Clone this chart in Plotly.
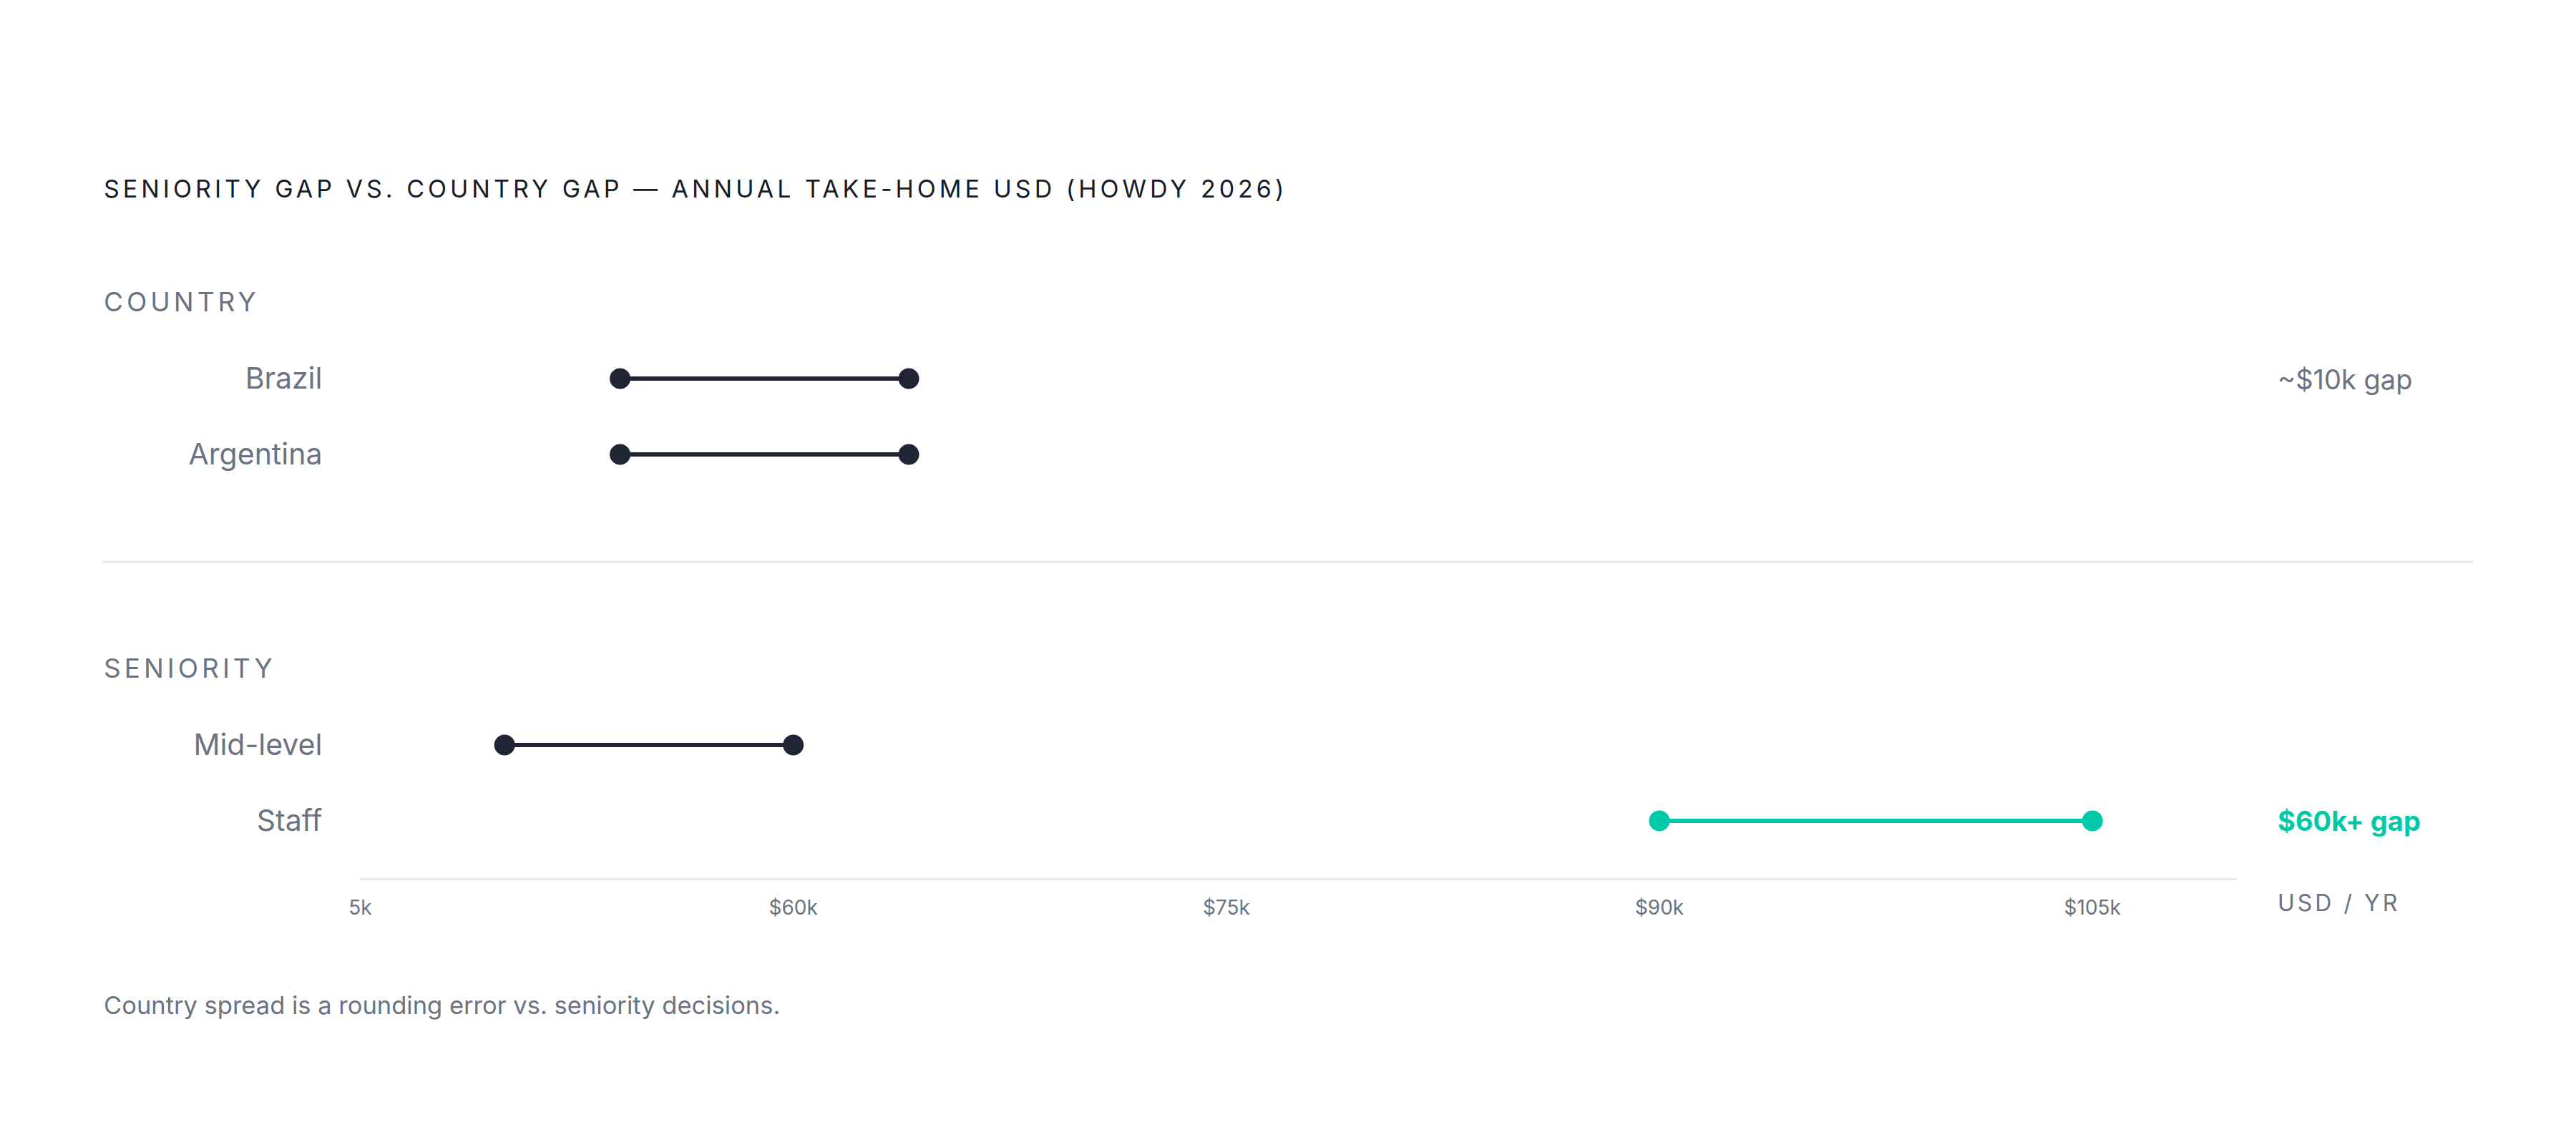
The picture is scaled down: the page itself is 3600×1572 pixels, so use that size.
import plotly.graph_objects as go

# data
country_rows = ["Brazil", "Argentina"]
country_low = [54000, 54000]
country_high = [64000, 64000]

seniority_rows = ["Mid-level", "Staff"]
seniority_low = [50000, 90000]
seniority_high = [60000, 105000]
seniority_colors = ["#1f2535", "#00c9a7"]

tick_vals = [45000, 60000, 75000, 90000, 105000]
tick_text = ["5k", "$60k", "$75k", "$90k", "$105k"]

DARK = "#1f2535"
GRAY = "#6b7280"
TEAL = "#00c9a7"
FONT = "Inter"

W, H = 3600, 1572


# page positions measured on the target, corrected for the page offset
def px_x(v):
    return ((v - 26) / 0.9946) / W


def px_y(v):
    return 1 - (v - 9) / H


fig = go.Figure()

# country dumbbells (top panel)
for i, name in enumerate(country_rows):
    fig.add_trace(go.Scatter(
        x=[country_low[i], country_high[i]], y=[name, name],
        mode="lines+markers", xaxis="x2", yaxis="y2",
        line=dict(color=DARK, width=6),
        marker=dict(color=DARK, size=29),
        showlegend=False, hoverinfo="skip",
    ))

# seniority dumbbells (bottom panel)
for i, name in enumerate(seniority_rows):
    fig.add_trace(go.Scatter(
        x=[seniority_low[i], seniority_high[i]], y=[name, name],
        mode="lines+markers", xaxis="x", yaxis="y",
        line=dict(color=seniority_colors[i], width=6),
        marker=dict(color=seniority_colors[i], size=29),
        showlegend=False, hoverinfo="skip",
    ))

x_dom = [px_x(505), px_x(3125)]

fig.update_layout(
    width=W, height=H,
    margin=dict(l=0, r=0, t=0, b=0),
    paper_bgcolor="white", plot_bgcolor="white",
    font=dict(family=FONT, color=GRAY),
    xaxis=dict(
        domain=x_dom, anchor="y", range=[45000, 110000],
        tickvals=tick_vals, ticktext=tick_text,
        tickfont=dict(size=28, color=GRAY, family=FONT),
        showgrid=False, zeroline=False, showline=True,
        linecolor="#e5e7eb", linewidth=3, ticks="", ticklabelstandoff=14,
    ),
    xaxis2=dict(
        domain=x_dom, anchor="y2", matches="x", range=[45000, 110000],
        visible=False, showgrid=False, zeroline=False,
    ),
    yaxis=dict(
        domain=[px_y(1228), px_y(989)], anchor="x",
        type="category", categoryarray=seniority_rows[::-1],
        range=[-0.755, 1.5],
        tickfont=dict(size=41, color=GRAY, family=FONT),
        showgrid=False, zeroline=False, showline=False, ticks="",
        ticklabelstandoff=52,
    ),
    yaxis2=dict(
        domain=[px_y(689), px_y(477)], anchor="x2",
        type="category", categoryarray=country_rows[::-1],
        range=[-0.5, 1.5],
        tickfont=dict(size=41, color=GRAY, family=FONT),
        showgrid=False, zeroline=False, showline=False, ticks="",
        ticklabelstandoff=52,
    ),
)

# divider between panels
fig.add_shape(type="line", xref="paper", yref="paper",
              x0=px_x(145), x1=px_x(3455), y0=px_y(786), y1=px_y(786),
              line=dict(color="#e5e7eb", width=3))

ann = [
    dict(text='<span style="letter-spacing:5px">SENIORITY GAP VS. COUNTRY GAP — ANNUAL TAKE-HOME USD (HOWDY 2026)</span>',
         x=px_x(145), y=px_y(264), size=34, color="#161b28"),
    dict(text='<span style="letter-spacing:5px">COUNTRY</span>',
         x=px_x(145), y=px_y(422), size=37, color=GRAY),
    dict(text='<span style="letter-spacing:5px">SENIORITY</span>',
         x=px_x(145), y=px_y(934), size=37, color=GRAY),
    dict(text="~$10k gap", x=px_x(3180), y=px_y(531), size=38, color=GRAY),
    dict(text="<b>$60k+ gap</b>", x=px_x(3180), y=px_y(1148), size=38, color=TEAL),
    dict(text='<span style="letter-spacing:4px">USD / YR</span>',
         x=px_x(3180), y=px_y(1262), size=32, color=GRAY),
    dict(text="Country spread is a rounding error vs. seniority decisions.",
         x=px_x(145), y=px_y(1405), size=34.5, color=GRAY),
]
for a in ann:
    fig.add_annotation(
        text=a["text"], xref="paper", yref="paper", x=a["x"], y=a["y"],
        xanchor="left", yanchor="middle", showarrow=False,
        font=dict(family=FONT, size=a["size"], color=a["color"]),
    )

fig.write_html("out.html")
